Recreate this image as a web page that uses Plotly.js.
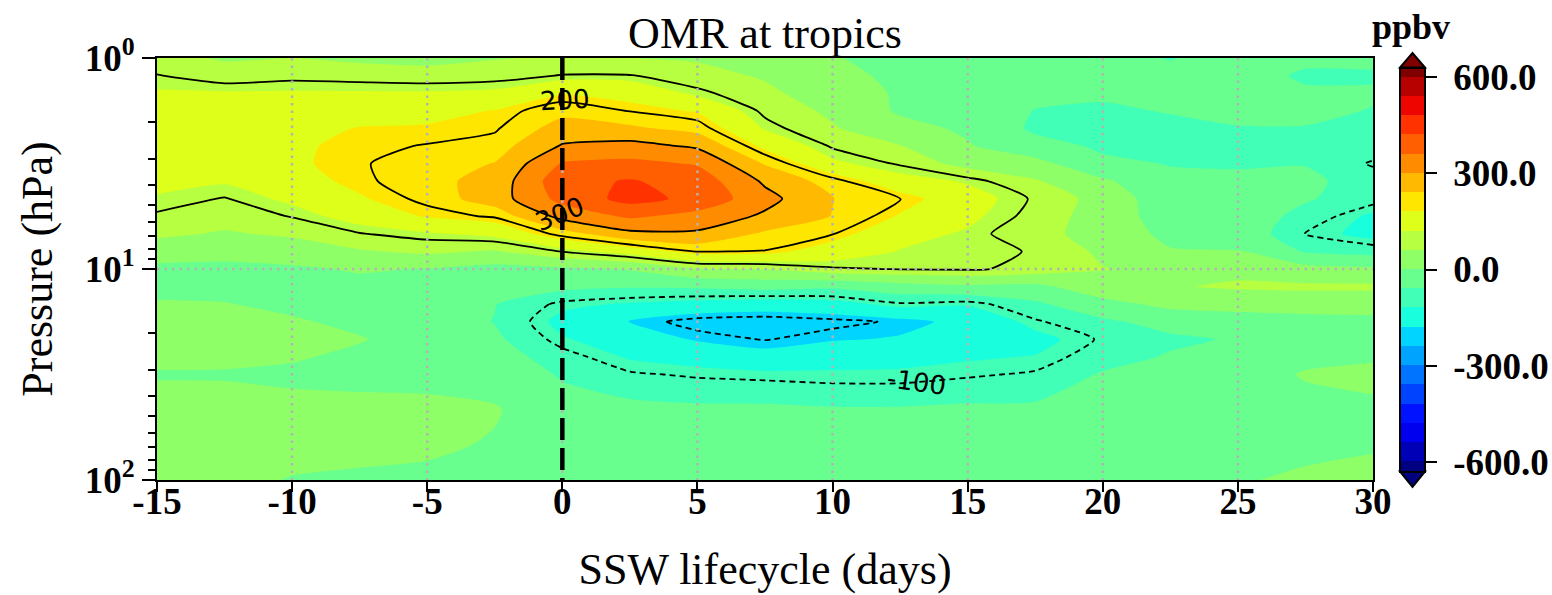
<!DOCTYPE html>
<html>
<head>
<meta charset="utf-8">
<script src="https://cdn.plot.ly/plotly-3.0.1.min.js"></script>
<style>html,body{margin:0;padding:0;background:#fff;}#chart{width:1552px;height:595px;}</style>
</head>
<body>
<div id="chart"></div>
<script>
// ---------------- data ----------------
const days = [-15, -12.5, -10, -7.5, -5, -2.5, 0, 2.5, 5, 7.5, 10, 12.5, 15, 17.5, 20, 22.5, 25, 27.5, 30];
const pressure = [1, 1.212, 1.468, 1.778, 2.154, 2.61, 3.162, 3.831, 4.642, 5.623, 6.813, 8.254, 10, 12.12, 14.68, 17.78, 21.54, 26.1, 31.62, 46.42, 68.13, 100];

// ozone mixing ratio anomaly (ppbv), one row per pressure level, columns follow `days`
const omr_1_000 = [75, 55, 60, 50, 45, 57, 65, 60, 55, 40, 5, -25, -30, -35, -45, -62, -40, -52, -50];
const omr_1_212 = [102, 80, 90, 85, 80, 85, 102, 102, 75, 55, 20, -15, -30, -40, -45, -50, -45, -65, -65];
const omr_1_468 = [125, 125, 125, 125, 125, 130, 175, 160, 110, 70, 35, -8, -25, -45, -55, -48, -48, -55, -55];
const omr_1_778 = [140, 145, 150, 160, 165, 182, 225, 198, 175, 90, 50, -8, -20, -62, -65, -58, -50, -50, -62];
const omr_2_154 = [150, 158, 165, 182, 185, 195, 262, 250, 220, 115, 65, 20, -10, -70, -70, -68, -62, -62, -68];
const omr_2_610 = [155, 162, 172, 192, 202, 215, 305, 320, 290, 165, 95, 62, 5, -40, -68, -70, -68, -68, -75];
const omr_3_162 = [150, 150, 172, 197, 215, 242, 365, 375, 355, 235, 130, 95, 40, 20, -50, -62, -65, -62, -105];
const omr_3_831 = [135, 125, 160, 192, 222, 262, 400, 425, 395, 290, 215, 140, 115, 65, 10, -50, -50, -50, -80];
const omr_4_642 = [115, 98, 130, 175, 210, 270, 380, 440, 405, 320, 242, 202, 140, 95, 40, -40, -40, -55, -85];
const omr_5_623 = [95, 80, 102, 140, 185, 205, 320, 370, 340, 290, 238, 175, 130, 88, 35, -30, -30, -75, -130];
const omr_6_813 = [70, 55, 68, 98, 115, 135, 215, 285, 290, 230, 202, 135, 115, 72, 45, -18, -20, -102, -135];
const omr_8_254 = [30, 20, 30, 55, 70, 55, 102, 145, 202, 198, 150, 118, 108, 98, 50, 5, 2, -65, -80];
const omr_10_00 = [-15, -15, -8, 5, -2, -20, -10, 5, 55, 62, 95, 102, 105, 90, 62, 45, 45, 20, 10];
const omr_12_12 = [-15, -15, -15, -15, -20, -40, -45, -55, -50, -40, -50, -25, -10, -15, 40, 55, 68, 70, 70];
const omr_14_68 = [5, 2, -10, -15, -25, -58, -110, -125, -140, -150, -140, -105, -115, -70, -20, 15, 20, 25, 25];
const omr_17_78 = [15, 15, 5, -10, -25, -62, -135, -182, -215, -220, -210, -195, -165, -105, -70, -40, -25, -20, -15];
const omr_21_54 = [20, 20, 15, 3, -20, -50, -115, -150, -185, -202, -185, -175, -160, -135, -95, -70, -55, -30, -25];
const omr_26_10 = [15, 12, 5, -10, -15, -35, -85, -125, -140, -160, -135, -130, -125, -118, -80, -55, -45, -15, -10];
const omr_31_62 = [-5, -5, -10, -12, -15, -25, -65, -95, -105, -110, -115, -115, -105, -95, -55, -40, -30, 5, 20];
const omr_46_42 = [25, 22, 15, 12, 12, 5, -40, -45, -50, -50, -55, -55, -50, -50, -35, -28, -15, -20, -15];
const omr_68_13 = [25, 25, 20, 15, 10, -5, -25, -30, -30, -30, -30, -30, -30, -30, -30, -20, -10, -15, -5];
const omr_100_0 = [15, 15, -3, -8, -12, -15, -20, -25, -25, -25, -25, -25, -25, -25, -25, -15, -5, 10, 15];

const fillLevels = {start: -600, end: 600, size: 60};
const lineLevelsPos = {start: 100, end: 300, size: 100};
const lineLevelsNeg = {start: -300, end: -100, size: 100};
const eventDay = 0;

const xTickVals = [-15, -10, -5, 0, 5, 10, 15, 20, 25, 30];
const xTickText = xTickVals.map(String);
const yTickVals = [1, 10, 100];
const yTickText = ['10<sup>0</sup>', '10<sup>1</sup>', '10<sup>2</sup>'];
const yMinorVals = [2, 3, 4, 5, 6, 7, 8, 9, 20, 30, 40, 50, 60, 70, 80, 90];
const yGridVals = [10];
const cbTickVals = [-600, -300, 0, 300, 600];
const cbTickText = ['-600.0', '-300.0', '0.0', '300.0', '600.0'];

const contourLabels = [
  {text: '200', day: 0.1, p: 1.58, angle: -3},
  {text: '300', day: -0.1, p: 5.5, angle: -22},
  {text: '-100', day: 13.1, p: 34.5, angle: 8}
];

// ---------------- style ----------------
const z = [omr_1_000, omr_1_212, omr_1_468, omr_1_778, omr_2_154, omr_2_610, omr_3_162, omr_3_831,
  omr_4_642, omr_5_623, omr_6_813, omr_8_254, omr_10_00, omr_12_12, omr_14_68, omr_17_78, omr_21_54,
  omr_26_10, omr_31_62, omr_46_42, omr_68_13, omr_100_0];

function seg(s, t) {
  for (let i = 0; i < s.length - 1; i++) {
    if (t >= s[i][0] && t <= s[i + 1][0]) {
      return s[i][1] + (s[i + 1][1] - s[i][1]) * (t - s[i][0]) / (s[i + 1][0] - s[i][0]);
    }
  }
  return s[s.length - 1][1];
}
const JR = [[0, 0], [0.35, 0], [0.66, 1], [0.89, 1], [1, 0.5]];
const JG = [[0, 0], [0.125, 0], [0.375, 1], [0.64, 1], [0.91, 0], [1, 0]];
const JB = [[0, 0.5], [0.11, 1], [0.34, 1], [0.65, 0], [1, 0]];
function jet(t) {
  return 'rgb(' + Math.round(255 * seg(JR, t)) + ',' + Math.round(255 * seg(JG, t)) + ',' + Math.round(255 * seg(JB, t)) + ')';
}
const nBands = Math.round((fillLevels.end - fillLevels.start) / fillLevels.size) + 2; // incl. under/over
const colorscale = [];
for (let i = 0; i < nBands; i++) colorscale.push([i / (nBands - 1), jet(i / (nBands - 1))]);

const SERIF = 'Liberation Serif, Times New Roman, serif';
const tickFont = {family: SERIF, size: 37, color: 'black', weight: 'bold'};
const titleFont = {family: SERIF, size: 44, color: 'black'};

const L = 157, R = 1373, T = 58, B = 480;
const pw = R - L, ph = B - T;
const px2x = v => (v - L) / pw;
const py2y = v => (B - v) / ph;

// ---------------- traces ----------------
const fillTrace = {
  type: 'contour', x: days, y: pressure, z: z,
  autocontour: false,
  contours: {start: fillLevels.start, end: fillLevels.end, size: fillLevels.size, coloring: 'fill', showlines: false},
  colorscale: colorscale,
  line: {width: 0, smoothing: 0.6},
  hoverinfo: 'skip',
  colorbar: {
    thickness: 25, thicknessmode: 'pixels',
    len: 404, lenmode: 'pixels',
    x: px2x(1400), xanchor: 'left', xpad: 0,
    y: py2y(269.5), yanchor: 'middle', ypad: 0,
    outlinewidth: 2, outlinecolor: 'black',
    tickmode: 'array', tickvals: cbTickVals, ticktext: cbTickText.map(t => '\u00a0' + t),
    ticks: 'outside', ticklen: 11, tickwidth: 2, tickcolor: 'black',
    tickfont: tickFont
  }
};

const gridX = [], gridY = [];
xTickVals.slice(1, -1).forEach(v => { gridX.push(v, v, null); gridY.push(pressure[0], pressure[pressure.length - 1], null); });
yGridVals.forEach(v => { gridX.push(days[0], days[days.length - 1], null); gridY.push(v, v, null); });
const gridTrace = {
  type: 'scatter', mode: 'lines', x: gridX, y: gridY,
  line: {color: '#b3b3b3', width: 2.5, dash: '2.5px,5px'},
  hoverinfo: 'skip', showlegend: false
};

const posTrace = {
  type: 'contour', x: days, y: pressure, z: z, showscale: false, autocontour: false,
  contours: {start: lineLevelsPos.start, end: lineLevelsPos.end, size: lineLevelsPos.size, coloring: 'none'},
  line: {color: 'black', width: 1.8, smoothing: 0.6},
  hoverinfo: 'skip'
};
const negTrace = {
  type: 'contour', x: days, y: pressure, z: z, showscale: false, autocontour: false,
  contours: {start: lineLevelsNeg.start, end: lineLevelsNeg.end, size: lineLevelsNeg.size, coloring: 'none'},
  line: {color: 'black', width: 1.8, dash: '6px,4px', smoothing: 0.6},
  hoverinfo: 'skip'
};
const eventTrace = {
  type: 'scatter', mode: 'lines',
  x: [eventDay, eventDay], y: [pressure[0], pressure[pressure.length - 1]],
  line: {color: 'black', width: 4.5, dash: '22px,8px'},
  hoverinfo: 'skip', showlegend: false
};

// ---------------- layout ----------------
const annotations = contourLabels.map(l => ({
  x: l.day, y: Math.log10(l.p), xref: 'x', yref: 'y', text: l.text, showarrow: false,
  textangle: l.angle, font: {family: 'DejaVu Sans, sans-serif', size: 26, color: 'black'}
}));
annotations.push({
  x: px2x(1370), y: py2y(27), xref: 'paper', yref: 'paper', xanchor: 'left', yanchor: 'middle',
  text: 'ppbv', showarrow: false, font: {family: SERIF, size: 36, color: 'black', weight: 'bold'}
});

const cbL = px2x(1400), cbR = px2x(1425), cbM = (cbL + cbR) / 2;
const topBase = py2y(269.5 - 202), botBase = py2y(269.5 + 202);
const shapes = [
  {type: 'path', xref: 'paper', yref: 'paper',
   path: `M ${cbL},${topBase} L ${cbR},${topBase} L ${cbM},${py2y(53)} Z`,
   fillcolor: jet(1), line: {color: 'black', width: 2}},
  {type: 'path', xref: 'paper', yref: 'paper',
   path: `M ${cbL},${botBase} L ${cbR},${botBase} L ${cbM},${py2y(487)} Z`,
   fillcolor: jet(0), line: {color: 'black', width: 2}}
];

const layout = {
  width: 1552, height: 595,
  margin: {l: L, r: 1552 - R, t: T, b: 595 - B, autoexpand: false},
  paper_bgcolor: 'white', plot_bgcolor: 'white',
  hovermode: false, showlegend: false,
  title: {text: 'OMR at tropics', font: titleFont, x: 0.5, xref: 'paper', xanchor: 'center',
          y: 1 - 33 / 595, yref: 'container', yanchor: 'middle'},
  xaxis: {
    range: [days[0], days[days.length - 1]],
    tickmode: 'array', tickvals: xTickVals, ticktext: xTickText,
    ticks: 'outside', ticklen: 10, tickwidth: 2, tickcolor: 'black',
    ticklabelstandoff: -22,
    showline: true, linecolor: 'black', linewidth: 2, mirror: true,
    showgrid: false, zeroline: false, tickfont: tickFont,
    title: {text: 'SSW lifecycle (days)', font: titleFont, standoff: 32}
  },
  yaxis: {
    type: 'log', range: [Math.log10(100), Math.log10(1)],
    tickmode: 'array', tickvals: yTickVals, ticktext: yTickText,
    ticks: 'outside', ticklen: 13, tickwidth: 2, tickcolor: 'black',
    minor: {tickmode: 'array', tickvals: yMinorVals, ticks: 'outside', ticklen: 7, tickwidth: 2, tickcolor: 'black', showgrid: false},
    showline: true, linecolor: 'black', linewidth: 2, mirror: true,
    showgrid: false, zeroline: false, tickfont: tickFont,
    title: {text: 'Pressure (hPa)', font: titleFont, standoff: 18}
  },
  annotations: annotations,
  shapes: shapes
};

Plotly.newPlot('chart', [fillTrace, gridTrace, posTrace, negTrace, eventTrace], layout, {displayModeBar: false, staticPlot: true});
</script>
</body>
</html>
